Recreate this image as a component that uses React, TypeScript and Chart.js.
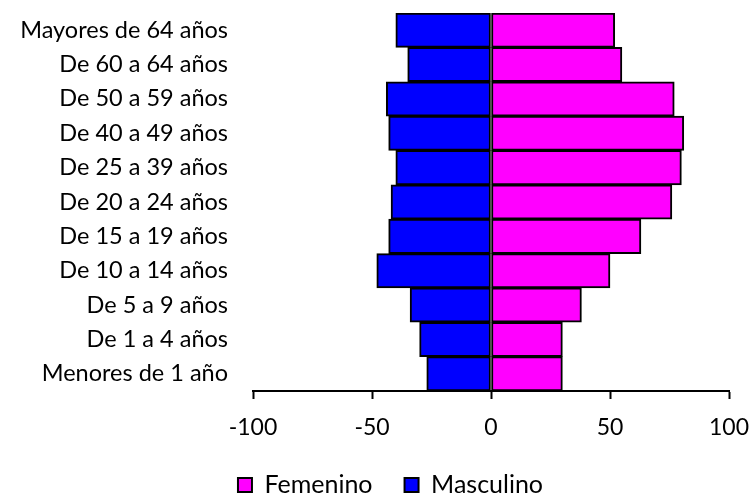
import React, { useEffect, useRef } from "react";
import { Chart, registerables } from "chart.js";

Chart.register(...registerables);

const categories = [
  "Mayores de 64 años",
  "De 60 a 64 años",
  "De 50 a 59 años",
  "De 40 a 49 años",
  "De 25 a 39 años",
  "De 20 a 24 años",
  "De 15 a 19 años",
  "De 10 a 14 años",
  "De 5 a 9 años",
  "De 1 a 4 años",
  "Menores de 1 año",
];
const femenino = [52, 55, 77, 81, 80, 76, 63, 50, 38, 30, 30];
const masculino = [-40, -35, -44, -43, -40, -42, -43, -48, -34, -30, -27];
const xTicks = [-100, -50, 0, 50, 100];

const FONT = "Lato, 'Open Sans', sans-serif";

const legendShift = {
  id: "legendShift",
  afterLayout(chart: any) {
    const lg = chart.legend;
    if (lg) {
      lg.left = 52;
      lg.right = 729;
      lg.width = lg.right - lg.left;
    }
  },
};

export default function App() {
  const ref = useRef<HTMLCanvasElement | null>(null);
  useEffect(() => {
    if (!ref.current) return;
    const chart = new Chart(ref.current, {
      type: "bar",
      data: {
        labels: categories,
        datasets: [
          {
            label: "Femenino",
            data: femenino,
            backgroundColor: "#FF00FF",
            borderColor: "#000000",
            borderWidth: 2,
            borderSkipped: false,
            barPercentage: 1,
            categoryPercentage: 1,
          },
          {
            label: "Masculino",
            data: masculino,
            backgroundColor: "#0000FF",
            borderColor: "#000000",
            borderWidth: 2,
            borderSkipped: false,
            barPercentage: 1,
            categoryPercentage: 1,
          },
        ],
      },
      options: {
        indexAxis: "y",
        animation: false,
        responsive: true,
        maintainAspectRatio: false,
        layout: { padding: { left: 0, right: 24, top: 13, bottom: -12.5 } },
        scales: {
          x: {
            stacked: true,
            min: -100,
            max: 100,
            afterBuildTicks: (axis: any) => {
              axis.ticks = xTicks.map((v) => ({ value: v }));
            },
            ticks: {
              color: "#000",
              font: { family: FONT, size: 23, lineHeight: 1.1 },
              padding: 16,
              maxRotation: 0,
            },
            grid: {
              drawOnChartArea: false,
              drawTicks: true,
              tickLength: 8,
              tickWidth: 2,
              color: "#000",
            },
            border: { display: true, color: "#000", width: 2 },
            afterFit: (axis: any) => {
              axis.height = 49.5;
              axis.paddingLeft = 0;
              axis.paddingRight = 0;
            },
          },
          y: {
            stacked: true,
            ticks: {
              color: "#000",
              font: { family: FONT, size: 23.5, lineHeight: 1.1 },
              padding: 0,
            },
            grid: {
              display: true,
              drawOnChartArea: false,
              drawTicks: true,
              tickLength: 25,
              tickColor: "rgba(0,0,0,0)",
            },
            border: { display: false },
            afterFit: (axis: any) => {
              axis.width = 253;
              axis.paddingTop = 0;
              axis.paddingBottom = 0;
            },
          },
        },
        plugins: {
          legend: {
            position: "bottom",
            labels: {
              color: "#000",
              font: { family: FONT, size: 25, lineHeight: 1.1 },
              boxWidth: 14,
              boxHeight: 14,
              padding: 32,
            },
          },
          tooltip: { enabled: false },
        },
      },
      plugins: [legendShift],
    });
    return () => chart.destroy();
  }, []);
  return (
    <div style={{ position: "fixed", left: 0, top: 0, width: 753, height: 495, background: "#fff" }}>
      <canvas ref={ref} />
    </div>
  );
}
